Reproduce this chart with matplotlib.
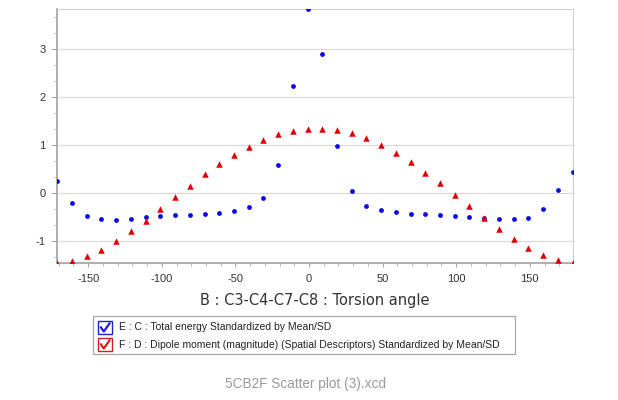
import matplotlib
matplotlib.use("Agg")
import matplotlib.pyplot as plt
from matplotlib.ticker import MultipleLocator
from matplotlib.patches import Rectangle
from matplotlib.lines import Line2D

plt.rcParams['axes.unicode_minus'] = False

torsion = [-171, -161, -151, -141, -131, -121, -111, -101, -91, -81, -71, -61,
           -51, -41, -31, -21, -11, -1, 9, 19, 29, 39, 49, 59,
           69, 79, 89, 99, 109, 119, 129, 139, 149, 159, 169, 179]
energy = [0.26, -0.21, -0.48, -0.54, -0.56, -0.54, -0.50, -0.48, -0.46, -0.46, -0.44, -0.42,
          -0.375, -0.29, -0.09, 0.58, 2.235, 3.84, 2.90, 0.99, 0.05, -0.26, -0.35, -0.40,
          -0.44, -0.44, -0.46, -0.48, -0.50, -0.52, -0.54, -0.54, -0.52, -0.33, 0.07, 0.44]
dipole = [-1.46, -1.41, -1.31, -1.18, -1.00, -0.79, -0.57, -0.33, -0.08, 0.15, 0.40, 0.60,
          0.80, 0.96, 1.11, 1.235, 1.30, 1.33, 1.33, 1.31, 1.25, 1.15, 1.00, 0.84,
          0.65, 0.43, 0.21, -0.04, -0.26, -0.51, -0.74, -0.96, -1.15, -1.29, -1.39, -1.45]

x_label = "B : C3-C4-C7-C8 : Torsion angle"
legend_labels = ["E : C : Total energy Standardized by Mean/SD",
                 "F : D : Dipole moment (magnitude) (Spatial Descriptors) Standardized by Mean/SD"]
footer = "5CB2F Scatter plot (3).xcd"

W, H = 618, 400
fig = plt.figure(figsize=(W / 100, H / 100), dpi=100)
fig.patch.set_facecolor('white')

def fx(px):
    return px / W

def fy(py):
    return 1 - py / H

ax_l, ax_r, ax_t, ax_b = 57.3, 572.5, 9.0, 263.3
ax = fig.add_axes([fx(ax_l), fy(ax_b), fx(ax_r - ax_l), (ax_b - ax_t) / H])

blue = '#0a0ae6'
red = '#e00000'
ax.scatter(torsion, energy, s=12, marker='o', color=blue, linewidths=0, zorder=3, clip_on=True)
ax.scatter(torsion, dipole, s=22, marker='^', color=red, linewidths=0, zorder=3, clip_on=True)

ax.set_xlim(min(torsion), max(torsion))
ax.set_ylim(min(dipole), max(energy))

ax.xaxis.set_major_locator(MultipleLocator(50))
ax.xaxis.set_minor_locator(MultipleLocator(10))
ax.yaxis.set_major_locator(MultipleLocator(1))
ax.yaxis.set_minor_locator(MultipleLocator(1 / 3))

ax.grid(axis='y', which='major', color='#d8d8d8', linewidth=0.8, zorder=0)
ax.set_axisbelow(True)

for side in ['top', 'right']:
    ax.spines[side].set_color('#d0d0d0')
    ax.spines[side].set_linewidth(0.8)
for side in ['left', 'bottom']:
    ax.spines[side].set_color('#a8a8a8')
    ax.spines[side].set_linewidth(1.3)

tick_font = 'Liberation Sans'
ax.tick_params(axis='both', which='major', length=4, width=0.8, color='#a8a8a8',
               labelsize=8, labelcolor='#333333', pad=4.5)
ax.tick_params(axis='both', which='minor', length=2.2, width=0.7, color='#b8b8b8')
ax.tick_params(axis='x', which='major', length=3)
for lab in ax.get_xticklabels() + ax.get_yticklabels():
    lab.set_fontfamily(tick_font)

fig.text(fx((ax_l + ax_r) / 2), fy(300), x_label, ha='center', va='center',
         fontsize=10.5, color='#333333', family='DejaVu Sans')

# legend box
lx0, lx1, ly0, ly1 = 93.3, 515.3, 316.0, 354.0
fig.patches.append(Rectangle((fx(lx0), fy(ly1)), fx(lx1 - lx0), (ly1 - ly0) / H,
                             transform=fig.transFigure, facecolor='white',
                             edgecolor='#a8a8a8', linewidth=0.9))
rows = [(320.7, 334.0, 327.5, '#2020d0'), (337.7, 351.0, 344.5, '#d02020')]
for (by0, by1, ty, col), lab in zip(rows, legend_labels):
    bx0, bx1 = 98.3, 111.7
    fig.patches.append(Rectangle((fx(bx0), fy(by1)), fx(bx1 - bx0), (by1 - by0) / H,
                                 transform=fig.transFigure, facecolor='white',
                                 edgecolor=col, linewidth=1.0))
    cx = [bx0 + 2.5, bx0 + 5.5, bx1 - 2.0]
    cy = [by0 + 6.5, by1 - 2.5, by0 + 2.5]
    fig.lines.append(Line2D([fx(v) for v in cx], [fy(v) for v in cy],
                            transform=fig.transFigure, color=col, linewidth=1.6,
                            solid_capstyle='round', solid_joinstyle='round'))
    fig.text(fx(119), fy(ty), lab, ha='left', va='center', fontsize=7.5,
             color='#222222', family='Liberation Sans')

fig.text(fx(305.5), fy(384), footer, ha='center', va='center', fontsize=9.8,
         color='#9a9a9a', family='Liberation Sans')

fig.savefig('out.png', dpi=100, facecolor='white')
